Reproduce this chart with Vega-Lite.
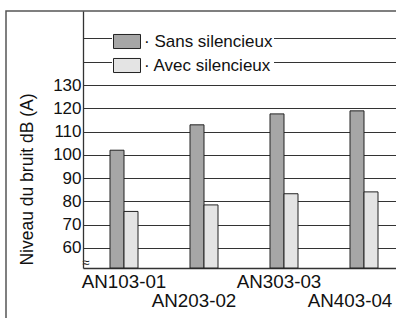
{
  "$schema": "https://vega.github.io/schema/vega-lite/v6.json",
  "autosize": {"type": "none"},
  "width": 390,
  "height": 307,
  "padding": {"left": 6, "top": 11, "right": 0, "bottom": 0},
  "background": "white",
  "config": {
    "font": "Liberation Sans",
    "view": {"stroke": "#555", "strokeWidth": 1.5, "strokeDash": [390, 697, 307, 10]},
    "axis": {"labelFont": "Liberation Sans", "titleFont": "Liberation Sans"},
    "legend": {"labelFont": "Liberation Sans"}
  },
  "data": {
    "values": [
      {"product": "AN103-01", "series": "Sans silencieux", "value": 102},
      {"product": "AN103-01", "series": "Avec silencieux", "value": 75.7},
      {"product": "AN203-02", "series": "Sans silencieux", "value": 112.9},
      {"product": "AN203-02", "series": "Avec silencieux", "value": 78.5},
      {"product": "AN303-03", "series": "Sans silencieux", "value": 117.6},
      {"product": "AN303-03", "series": "Avec silencieux", "value": 83.3},
      {"product": "AN403-04", "series": "Sans silencieux", "value": 118.9},
      {"product": "AN403-04", "series": "Avec silencieux", "value": 84.1}
    ]
  },
  "mark": {"type": "bar", "stroke": "#222", "strokeWidth": 1},
  "encoding": {
    "x": {
      "field": "product",
      "type": "nominal",
      "sort": ["AN103-01", "AN203-02", "AN303-03", "AN403-04"],
      "scale": {"range": [77, 399], "paddingInner": 0.65, "paddingOuter": 0.3375},
      "axis": {
        "orient": "bottom",
        "offset": -50,
        "title": null,
        "labelAngle": 0,
        "ticks": false,
        "grid": false,
        "domainColor": "#333",
        "domainWidth": 1.3,
        "labelFontSize": 18.8,
        "labelColor": "#111",
        "labelPadding": 4,
        "labelLineHeight": 19,
        "labelOverlap": false,
        "labelFlush": false,
        "labelBound": false,
        "labelLimit": 0,
        "labelExpr": "indexof(['AN203-02','AN403-04'], datum.value) >= 0 ? ['', datum.label] : datum.label",
        "labelOffset": {
          "condition": [
            {"test": "datum.value == 'AN203-02'", "value": -10},
            {"test": "datum.value == 'AN303-03'", "value": -5},
            {"test": "datum.value == 'AN403-04'", "value": -14}
          ],
          "value": 0
        }
      }
    },
    "xOffset": {
      "field": "series",
      "type": "nominal",
      "sort": ["Sans silencieux", "Avec silencieux"]
    },
    "y": {
      "field": "value",
      "type": "quantitative",
      "scale": {"domain": [51.4, 161.8], "range": [257, 0], "nice": false, "zero": false},
      "axis": {
        "orient": "left",
        "offset": -77,
        "values": [53.6, 60, 70, 80, 90, 100, 110, 120, 130, 140, 150],
        "labelExpr": "datum.value < 55 ? '≈' : (datum.value > 130 ? '' : datum.label)",
        "ticks": false,
        "grid": true,
        "gridColor": "#333",
        "gridWidth": 1.2,
        "gridOpacity": {"condition": {"test": "datum.value < 55", "value": 0}, "value": 1},
        "domainColor": "#333",
        "domainWidth": 1.3,
        "labelFontSize": {"condition": {"test": "datum.value < 55", "value": 13}, "value": 17},
        "labelColor": "#111",
        "labelPadding": {"condition": {"test": "datum.value < 55", "value": -6}, "value": 2},
        "labelOverlap": false,
        "title": "Niveau du bruit dB (A)",
        "titleFontSize": 17.5,
        "titleFontWeight": "normal",
        "titleColor": "#111",
        "titleAngle": 270,
        "titleAlign": "center",
        "titleBaseline": "middle",
        "titleX": -56,
        "titleY": 168
      }
    },
    "y2": {"datum": 51.4},
    "color": {
      "field": "series",
      "type": "nominal",
      "sort": ["Sans silencieux", "Avec silencieux"],
      "scale": {"domain": ["Sans silencieux", "Avec silencieux"], "range": ["#a6a6a6", "#e4e4e4"]},
      "legend": {
        "orient": "none",
        "legendX": 106,
        "legendY": 15.5,
        "title": null,
        "fillColor": "white",
        "padding": 1,
        "rowPadding": -4,
        "symbolType": "M-1,-0.52H1V0.52H-1Z",
        "symbolSize": 729,
        "symbolStrokeColor": "#222",
        "symbolStrokeWidth": 1,
        "symbolOpacity": 1,
        "labelFontSize": 17,
        "labelColor": "#111",
        "labelOffset": 3,
        "labelLimit": 0,
        "labelExpr": "'· ' + datum.label"
      }
    }
  }
}
